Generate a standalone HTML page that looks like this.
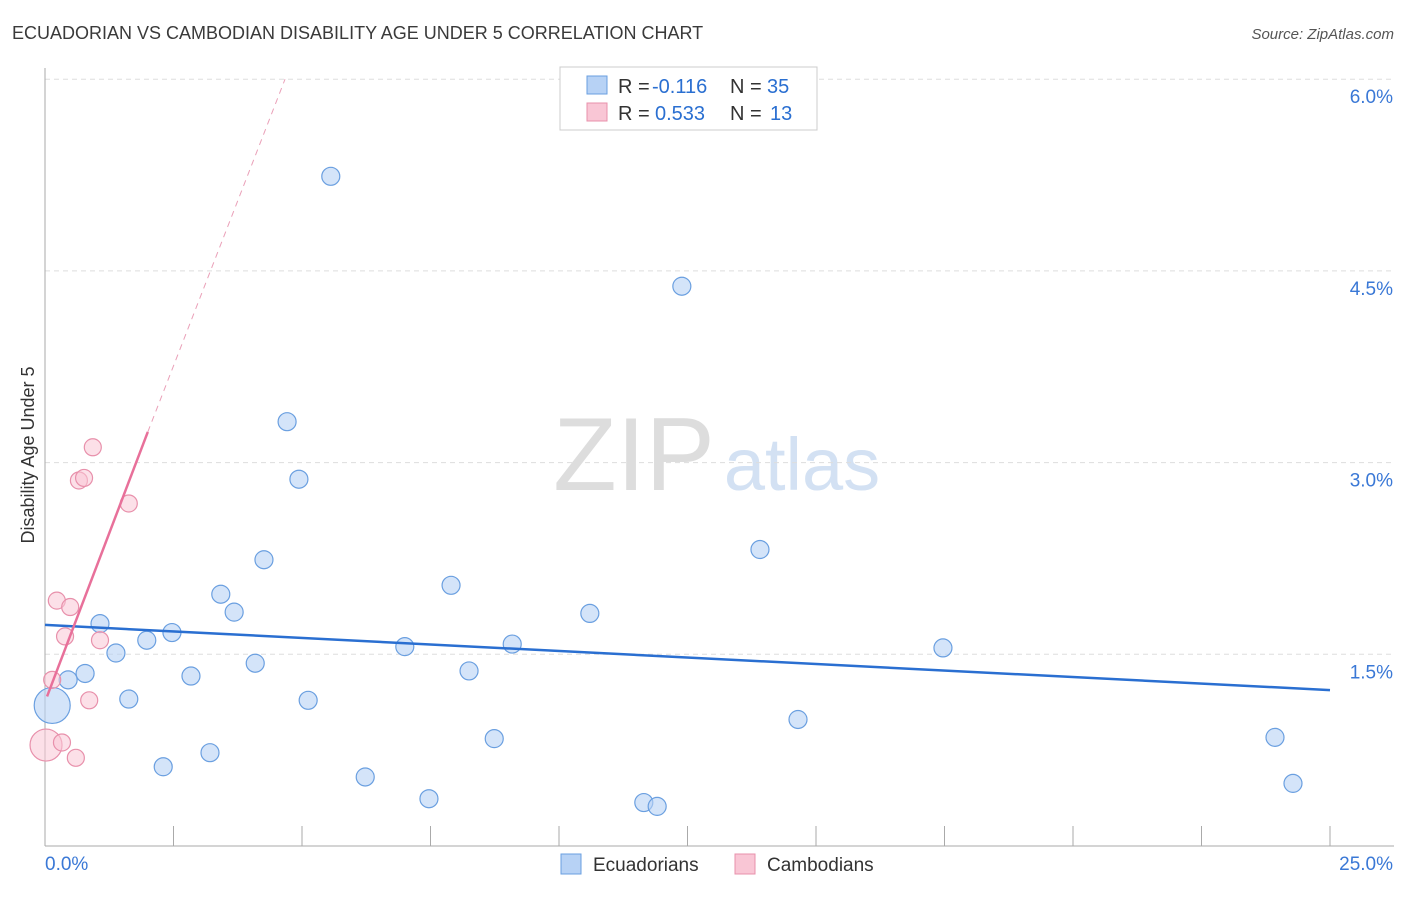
<!DOCTYPE html>
<html><head><meta charset="utf-8"><style>
body{margin:0;background:#fff;font-family:"Liberation Sans",sans-serif}
svg text{font-family:"Liberation Sans",sans-serif}
</style></head><body>
<svg width="1406" height="892" xmlns="http://www.w3.org/2000/svg">
<text x="12" y="39" font-size="18" fill="#3a3a3a">ECUADORIAN VS CAMBODIAN DISABILITY AGE UNDER 5 CORRELATION CHART</text>
<text x="1394" y="39" font-size="15" fill="#555" font-style="italic" text-anchor="end">Source: ZipAtlas.com</text>
<g><text x="634" y="490" font-size="104" fill="#ddd" font-family="Liberation Serif" text-anchor="middle">ZIP</text><text x="802" y="490" font-size="74" fill="#d3e1f3" text-anchor="middle">atlas</text></g>
<g id="grid"></g><g id="axes"></g><g id="marks"></g>
<text x="34" y="455" font-size="18" fill="#333" text-anchor="middle" transform="rotate(-90 34 455)">Disability Age Under 5</text>
<g>
<rect x="560" y="67" width="257" height="63" fill="#fff" stroke="#ccc"/>
<rect x="587" y="76" width="20" height="18" fill="#b7d2f5" stroke="#6a9fe0"/>
<rect x="587" y="103" width="20" height="18" fill="#f9c6d5" stroke="#e890ab"/>
<text x="618" y="93" font-size="20" fill="#333">R =</text><text x="652" y="93" font-size="20" fill="#2a6fd1">-0.116</text>
<text x="730" y="93" font-size="20" fill="#333">N =</text><text x="767" y="93" font-size="20" fill="#2a6fd1">35</text>
<text x="618" y="120" font-size="20" fill="#333">R =</text><text x="655" y="120" font-size="20" fill="#2a6fd1">0.533</text>
<text x="730" y="120" font-size="20" fill="#333">N =</text><text x="770" y="120" font-size="20" fill="#2a6fd1">13</text>
</g>
<g>
<rect x="561" y="854" width="20" height="20" fill="#b7d2f5" stroke="#6a9fe0"/>
<text x="593" y="871" font-size="19" fill="#333">Ecuadorians</text>
<rect x="735" y="854" width="20" height="20" fill="#f9c6d5" stroke="#e890ab"/>
<text x="767" y="871" font-size="19" fill="#333">Cambodians</text>
</g>
</svg>
<script>
const ecuX=[0.14,0.45,0.78,1.07,1.38,1.63,1.98,2.30,2.47,2.84,3.21,3.42,3.68,4.09,4.26,4.71,4.94,5.12,5.56,6.23,7.00,7.47,7.90,8.25,8.74,9.09,10.60,11.65,11.91,12.39,13.91,14.65,17.47,23.93,24.28];
const ecuY=[1.10,1.30,1.35,1.74,1.51,1.15,1.61,0.62,1.67,1.33,0.73,1.97,1.83,1.43,2.24,3.32,2.87,1.14,5.24,0.54,1.56,0.37,2.04,1.37,0.84,1.58,1.82,0.34,0.31,4.38,2.32,0.99,1.55,0.85,0.49];
const camX=[0.02,0.14,0.23,0.33,0.39,0.49,0.60,0.66,0.76,0.86,0.93,1.07,1.63];
const camY=[0.79,1.30,1.92,0.81,1.64,1.87,0.69,2.86,2.88,1.14,3.12,1.61,2.68];
const yTicks=[1.5,3.0,4.5,6.0];
const xTicks=[0,2.5,5,7.5,10,12.5,15,17.5,20,22.5,25];
const ecuTrend=[[0,1.73],[25,1.22]];
const camTrend=[[0.04,1.17],[2.0,3.24]];
const camDash=[[2.0,3.24],[4.67,6.0]];
const NS="http://www.w3.org/2000/svg";
const X=v=>45+v/25*1285, Y=v=>846-v*127.8;
function mk(p,t,a){const e=document.createElementNS(NS,t);for(const k in a)e.setAttribute(k,a[k]);document.getElementById(p).appendChild(e);return e;}
yTicks.forEach(t=>{
 const l=mk('grid','line',{x1:45,x2:1394,y1:Y(t),y2:Y(t),stroke:'#ddd','stroke-dasharray':'5,4'});
 
 
 const tx=mk('grid','text',{x:1393,y:Y(t)+24,'font-size':19,fill:'#3a78d6','text-anchor':'end'});tx.textContent=t.toFixed(1)+'%';
 
 
});
mk('axes','line',{x1:45,x2:45,y1:68,y2:846,stroke:'#aaa'});
mk('axes','line',{x1:45,x2:1394,y1:846,y2:846,stroke:'#aaa'});
xTicks.forEach(t=>{const l=mk('axes','line',{x1:X(t),x2:X(t),y1:826,y2:846,stroke:'#aaa'});
 
 });
let a=mk('axes','text',{x:45,y:870,'font-size':19,fill:'#3a78d6'});a.textContent='0.0%';


a=mk('axes','text',{x:1393,y:870,'font-size':19,fill:'#3a78d6','text-anchor':'end'});a.textContent='25.0%';


ecuX.forEach((v,i)=>{const c=mk('marks','circle',{cx:X(v),cy:Y(ecuY[i]),r:i==0?18:9,fill:'rgba(183,210,245,0.6)',stroke:'#6a9fe0','stroke-width':1.2});
 
 });
camX.forEach((v,i)=>{const c=mk('marks','circle',{cx:X(v),cy:Y(camY[i]),r:i==0?16:8.5,fill:'rgba(249,198,213,0.55)',stroke:'#e890ab','stroke-width':1.2});
 
 });
let t=mk('marks','line',{x1:X(ecuTrend[0][0]),y1:Y(ecuTrend[0][1]),x2:X(ecuTrend[1][0]),y2:Y(ecuTrend[1][1]),stroke:'#2a6fd1','stroke-width':2.5});


t=mk('marks','line',{x1:X(camTrend[0][0]),y1:Y(camTrend[0][1]),x2:X(camTrend[1][0]),y2:Y(camTrend[1][1]),stroke:'#e8709a','stroke-width':2.5});


t=mk('marks','line',{x1:X(camDash[0][0]),y1:Y(camDash[0][1]),x2:X(camDash[1][0]),y2:Y(camDash[1][1]),stroke:'#eaa0b8','stroke-width':1,'stroke-dasharray':'6,5'});


</script>
</body></html>
